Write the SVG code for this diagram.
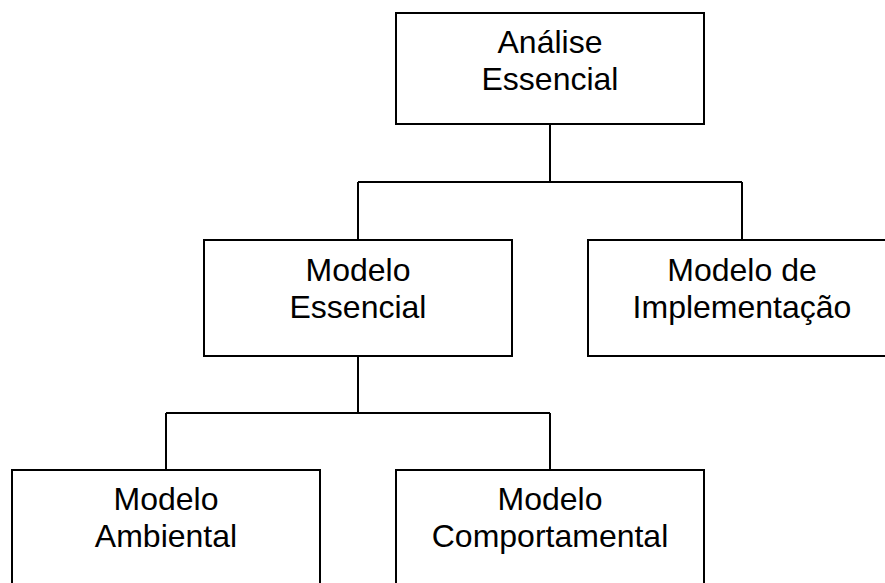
<svg xmlns="http://www.w3.org/2000/svg" width="885" height="583" viewBox="0 0 885 583">
<style>
.box{fill:#fff;stroke:#000;stroke-width:2}
.lbl{font-family:"Liberation Sans",Arial,sans-serif;font-size:32px;fill:#000;text-anchor:middle}
.conn{fill:none;stroke:#000;stroke-width:2}
</style>
<rect width="885" height="583" fill="#fff"/>
<g id="connectors">
<path class="conn" d="M550 124V182M358 182H742M358 182V240M742 182V240"/>
<path class="conn" d="M358 356V413M166 413H550M166 413V470M550 413V470"/>
</g>
<g id="analise">
<rect class="box" x="396" y="13" width="308" height="111"/>
<text class="lbl" x="550" y="53">Análise</text>
<text class="lbl" x="550" y="90">Essencial</text>
</g>
<g id="modelo-essencial">
<rect class="box" x="204" y="240" width="308" height="116"/>
<text class="lbl" x="358" y="281">Modelo</text>
<text class="lbl" x="358" y="318">Essencial</text>
</g>
<g id="modelo-implementacao">
<rect class="box" x="588" y="240" width="308" height="116"/>
<text class="lbl" x="742" y="281">Modelo de</text>
<text class="lbl" x="742" y="318">Implementação</text>
</g>
<g id="modelo-ambiental">
<rect class="box" x="12" y="470" width="308" height="116"/>
<text class="lbl" x="166" y="510">Modelo</text>
<text class="lbl" x="166" y="547">Ambiental</text>
</g>
<g id="modelo-comportamental">
<rect class="box" x="396" y="470" width="308" height="116"/>
<text class="lbl" x="550" y="510">Modelo</text>
<text class="lbl" x="550" y="547">Comportamental</text>
</g>
</svg>
